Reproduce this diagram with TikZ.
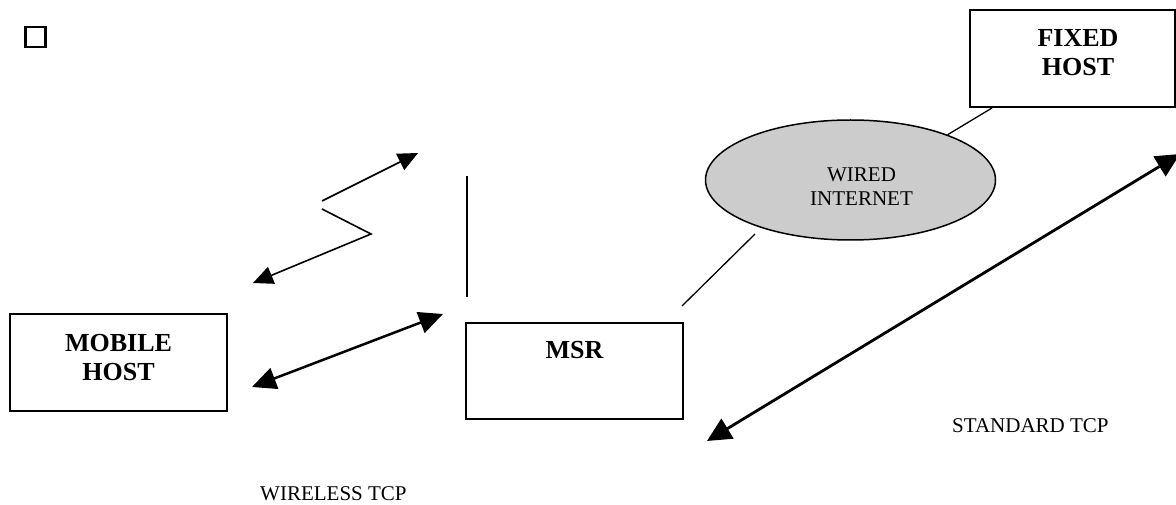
\documentclass[tikz,border=0pt]{standalone}
\usepackage{fontspec}
\setmainfont{Liberation Serif}
\usetikzlibrary{arrows.meta,shapes.geometric}
\begin{document}
\begin{tikzpicture}[x=1pt,y=-1pt,
  box/.style={draw, line width=1.5pt, rectangle, inner sep=0pt},
  boxtext/.style={font=\bfseries\fontsize{26}{29}\selectfont, align=center, anchor=base, inner sep=0pt},
  plaintext/.style={font=\fontsize{21}{24}\selectfont, inner sep=0pt},
  link/.style={line width=1.3pt},
  radio/.style={line width=1.6pt, -{Triangle[length=20pt,width=18pt]}},
  shorttcp/.style={line width=2.5pt, {Triangle[length=24pt,width=22pt]}-{Triangle[length=24pt,width=22pt]}},
  longtcp/.style={line width=2.8pt, {Triangle[length=24pt,width=23pt]}-{Triangle[length=24pt,width=23pt]}},
]
\clip (0,0) rectangle (1176,505);

% bullet mark
\node[draw, line width=2.4pt, minimum size=20pt, inner sep=0pt] (bullet) at (35.5,37.2) {};

% hosts and router (base anchor of a two-line label sits on its last line)
\node[box, minimum width=217pt, minimum height=97pt] (mh) at (118.5,362.5) {};
\node[boxtext] (mhtext) at (118.5,380) {MOBILE\\HOST};
\node[box, minimum width=217pt, minimum height=96pt] (msr) at (574.5,371) {};
\node[boxtext] (msrtext) at (574.5,358) {MSR};
\node[box, minimum width=205pt, minimum height=97pt] (fh) at (1072.5,58.5) {};
\node[boxtext] (fhtext) at (1078,76) {FIXED\\HOST};

% wired internet cloud
\node[draw, ellipse, line width=1.5pt, fill=black!20, minimum width=290pt, minimum height=120pt, inner sep=0pt] (net) at (850.5,180) {};
\node[plaintext, align=center, anchor=base] (nettext) at (861.5,206) {WIRED\\INTERNET};

% wired links
\coordinate (fhfoot) at (992,108);
\draw[link] (fhfoot) -- (net.25);
\coordinate (netfoot) at (755,234);
\coordinate (msrtop) at (682,306);
\draw[link] (netfoot) -- (msrtop);

% radio link and mast
\coordinate (zA) at (322,201);
\coordinate (zAtip) at (418,153);
\coordinate (zB) at (322,209);
\coordinate (zC) at (371,234);
\coordinate (zBtip) at (253,283);
\draw[radio] (zA) -- (zAtip);
\draw[radio, line join=miter] (zB) -- (zC) -- (zBtip);
\coordinate (mastTop) at (467,176);
\coordinate (mastBot) at (467,297);
\draw[line width=1.5pt] (mastTop) -- (mastBot);

% TCP connections
\coordinate (wl1) at (252,387);
\coordinate (wl2) at (443,314);
\draw[shorttcp] (wl1) -- (wl2);
\coordinate (st1) at (707,441);
\coordinate (st2) at (1180,154);
\draw[longtcp] (st1) -- (st2);

% connection labels
\node[plaintext, anchor=base west] (stdlabel) at (952,432) {STANDARD TCP};
\node[plaintext, anchor=base west] (wllabel) at (260,500) {WIRELESS TCP};
\end{tikzpicture}
\end{document}
